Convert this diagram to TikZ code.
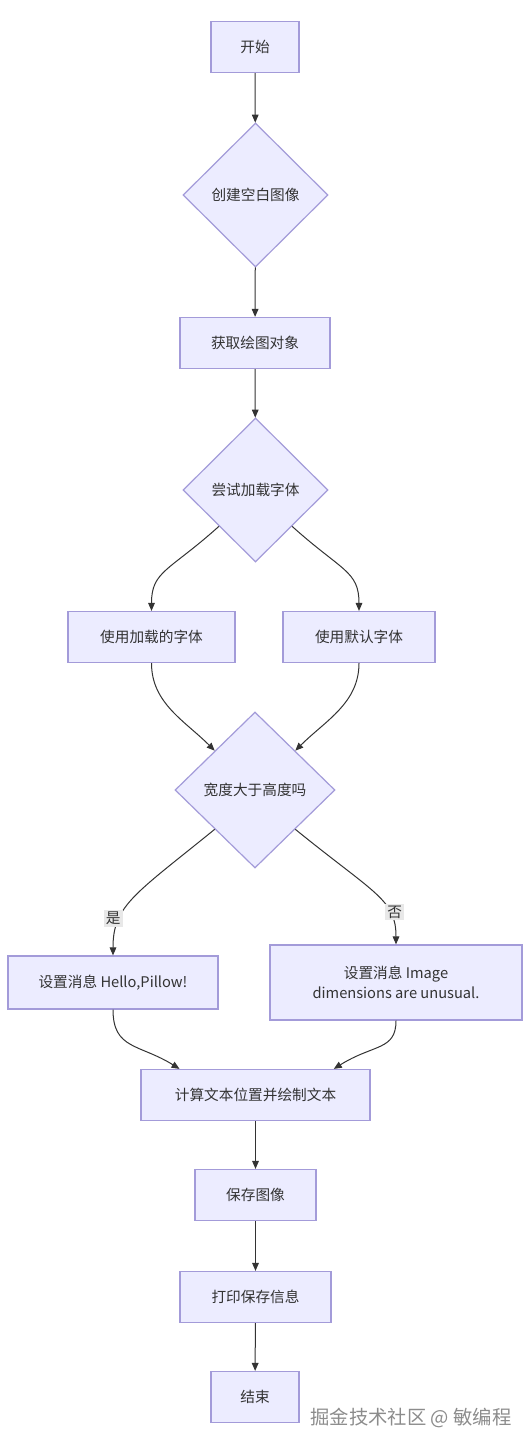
\documentclass[tikz,border=0pt]{standalone}
\usepackage{fontspec}
\setmainfont{Noto Sans CJK SC}
\usepackage{tikz}
\usetikzlibrary{arrows.meta,positioning,calc,shapes.geometric}
\definecolor{nodefill}{HTML}{ECECFF}
\definecolor{nodeline}{HTML}{A39BD9}
\definecolor{edgecol}{HTML}{333333}
\definecolor{labelbg}{HTML}{E8E8E8}
\tikzset{
  >=Stealth,
  every picture/.append style={line width=0.6pt},
  every node/.append style={font=\fontsize{11}{15}\selectfont, text=edgecol},
}
\tikzset{
  box/.style={draw=nodeline, fill=nodefill, align=center, inner sep=2pt, minimum height=38.25pt, line width=0.9pt},
  decision/.style={diamond, aspect=1, draw=nodeline, fill=nodefill, align=center, inner sep=0pt, line width=0.9pt},
  arrow/.style={-{Triangle[length=6pt,width=5pt]}, draw=edgecol, line width=0.75pt}
}

\begin{document}
\begin{tikzpicture}[
  x=0.75pt, y=-0.75pt,
  choice/.style={fill=labelbg, inner sep=1.5pt},
  watermark/.style={text=black!45, font=\fontsize{14.5}{17}\selectfont}
]
\useasboundingbox (0,0) rectangle (530,1446);

% Main steps (top to bottom)
\node[box, minimum width=66pt] (start) at (255,47) {开始};
\node[decision, minimum width=108.75pt, minimum height=108pt] (blank) at (255.5,195) {创建空白图像};
\node[box, minimum width=112.5pt] (draw) at (255,343) {获取绘图对象};
\node[decision, minimum width=108.75pt, minimum height=108pt] (tryfont) at (255.5,490) {尝试加载字体};

% Font branches
\node[box, minimum width=125.25pt] (loaded) at (151.5,637) {使用加载的字体};
\node[box, minimum width=114pt] (default) at (359,637) {使用默认字体};

% Size check
\node[decision, minimum width=120pt, minimum height=117pt] (wide) at (255,790) {宽度大于高度吗};
\node[box, minimum width=157.5pt, minimum height=39.75pt] (hello) at (113,982.5) {设置消息 Hello,Pillow!};
\node[box, minimum width=189pt, minimum height=56.25pt] (odd) at (396,982.5) {设置消息 Image\\dimensions are unusual.};

% Remaining steps
\node[box, minimum width=171.75pt] (place) at (255.5,1095) {计算文本位置并绘制文本};
\node[box, minimum width=90.75pt] (save) at (255.5,1195) {保存图像};
\node[box, minimum width=113.25pt] (print) at (255.5,1297) {打印保存信息};
\node[box, minimum width=66pt] (stop) at (255,1397) {结束};

% Watermark
\node[watermark] (credit) at (411,1418) {掘金技术社区 @ 敏编程};

% Straight links
\draw[arrow] (start) -- (blank);
\draw[arrow] (blank) -- (draw);
\draw[arrow] (draw) -- (tryfont);
\draw[arrow] (place) -- (save);
\draw[arrow] (save) -- (print);
\draw[arrow] (print) -- (stop);

% Curved links (split and merge)
\draw[arrow] (tryfont.south west) .. controls +(-50,45) and +(0,-40) .. (loaded.north);
\draw[arrow] (tryfont.south east) .. controls +(50,45) and +(0,-40) .. (default.north);
\draw[arrow] (loaded.south) .. controls +(0,40) and +(-30,-30) .. (wide.north west);
\draw[arrow] (default.south) .. controls +(0,40) and +(30,-30) .. (wide.north east);
\draw[arrow] (wide.south west) .. controls +(-80,65) and +(0,-50) .. node[choice, pos=0.7, xshift=-5pt] {是} (hello.north);
\draw[arrow] (wide.south east) .. controls +(80,65) and +(0,-45) .. node[choice, pos=0.7, xshift=4pt] {否} (odd.north);
\draw[arrow] (hello.south) .. controls +(0,40) and +(-40,-25) .. ($(place.north west)!0.34!(place.north)$);
\draw[arrow] (odd.south) .. controls +(0,30) and +(40,-25) .. ($(place.north)!0.68!(place.north east)$);

\end{tikzpicture}
\end{document}
